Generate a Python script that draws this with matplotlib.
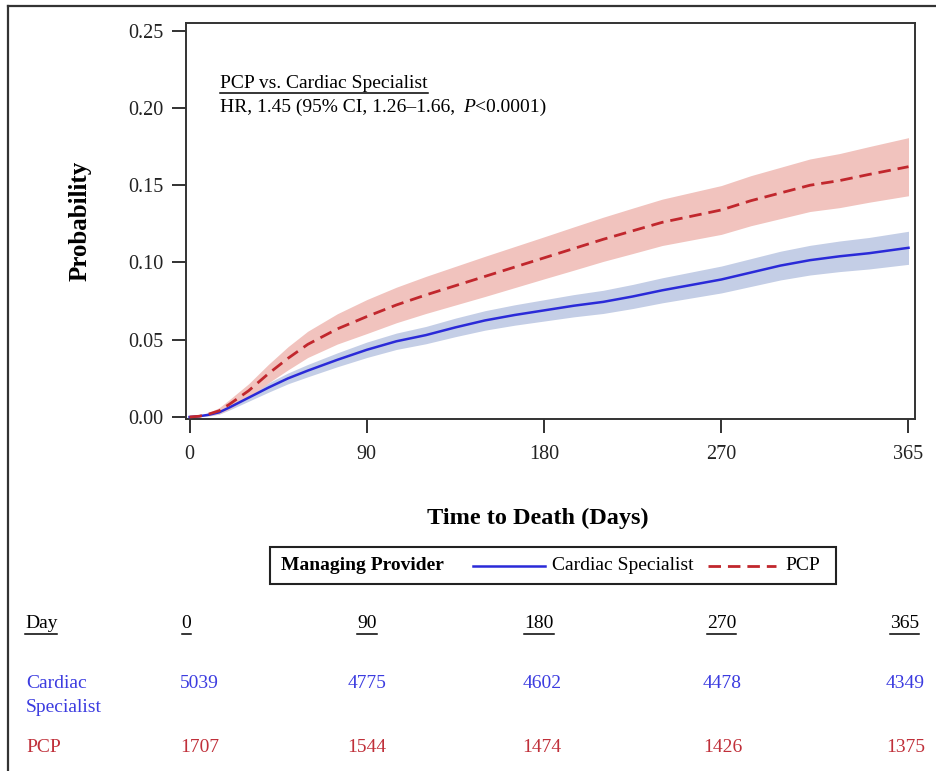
import matplotlib
matplotlib.use("Agg")
import matplotlib.pyplot as plt
from matplotlib import transforms
from matplotlib.lines import Line2D
from matplotlib.patches import Rectangle

# ---------------- data ----------------
days = [0, 5, 10, 15, 20, 30, 40, 50, 60, 75, 90, 105, 120, 135, 150, 165, 180,
        195, 210, 225, 240, 255, 270, 285, 300, 315, 330, 345, 365]

cs_est = [0, 0.0005, 0.0015, 0.003, 0.006, 0.0125, 0.019, 0.025, 0.030, 0.037, 0.0435,
          0.049, 0.053, 0.058, 0.0625, 0.066, 0.069, 0.072, 0.0745, 0.078, 0.082,
          0.0855, 0.089, 0.0935, 0.098, 0.1015, 0.104, 0.106, 0.1095]
cs_lo = [0, 0.0002, 0.0007, 0.0018, 0.0044, 0.0102, 0.016, 0.0215, 0.026, 0.0325, 0.0385,
         0.0437, 0.0474, 0.052, 0.0562, 0.0594, 0.0621, 0.0648, 0.067, 0.0702, 0.0739,
         0.0771, 0.0803, 0.0845, 0.0887, 0.0919, 0.0941, 0.0958, 0.0988]
cs_hi = [0, 0.0008, 0.0023, 0.0042, 0.0076, 0.0148, 0.022, 0.0285, 0.034, 0.0415, 0.0485,
         0.0543, 0.0586, 0.064, 0.0688, 0.0726, 0.0759, 0.0792, 0.082, 0.0858, 0.0901,
         0.0939, 0.0977, 0.1025, 0.1073, 0.1111, 0.1139, 0.1162, 0.1202]

pcp_est = [0, 0.0005, 0.002, 0.004, 0.008, 0.017, 0.028, 0.038, 0.047, 0.057, 0.065,
           0.0725, 0.079, 0.085, 0.091, 0.097, 0.103, 0.109, 0.115, 0.1205, 0.126,
           0.130, 0.134, 0.140, 0.145, 0.150, 0.153, 0.157, 0.162]
pcp_lo = [0, 0.0002, 0.001, 0.002, 0.005, 0.0125, 0.022, 0.0305, 0.0385, 0.0472, 0.054,
          0.061, 0.067, 0.0725, 0.078, 0.0837, 0.0894, 0.095, 0.1007, 0.1058, 0.111,
          0.1146, 0.1182, 0.1238, 0.1284, 0.133, 0.1355, 0.139, 0.1432]
pcp_hi = [0, 0.0008, 0.003, 0.006, 0.011, 0.0215, 0.034, 0.0455, 0.0555, 0.0668, 0.076,
          0.084, 0.091, 0.0975, 0.104, 0.1103, 0.1166, 0.123, 0.1293, 0.1352, 0.141,
          0.1454, 0.1498, 0.1562, 0.1616, 0.167, 0.1705, 0.175, 0.1808]

x_ticks = [0, 90, 180, 270, 365]
y_ticks = [0.00, 0.05, 0.10, 0.15, 0.20, 0.25]
y_ticklabels = ["0.00", "0.05", "0.10", "0.15", "0.20", "0.25"]

risk_days = [0, 90, 180, 270, 365]
cs_risk = [5039, 4775, 4602, 4478, 4349]
pcp_risk = [1707, 1544, 1474, 1426, 1375]

group_names = ["Cardiac Specialist", "PCP"]

# ---------------- style ----------------
SERIF = ["Liberation Serif", "DejaVu Serif"]
plt.rcParams["font.family"] = SERIF
BLUE = "#2a2ad8"
RED = "#c1272d"
BLUE_FILL = "#c4cee6"
RED_FILL = "#f1c3be"
BLUE_TXT = "#3c3ce0"
RED_TXT = "#c0303a"

W, H = 937, 771
fig = plt.figure(figsize=(W / 100, H / 100), dpi=100)


def fx(px):
    return px / W


def fy(py):
    return 1 - py / H


ax = fig.add_axes([fx(186), fy(419), (915 - 186) / W, (419 - 23) / H])

ax.fill_between(days, cs_lo, cs_hi, color=BLUE_FILL, lw=0, zorder=1)
ax.fill_between(days, pcp_lo, pcp_hi, color=RED_FILL, lw=0, zorder=1)
ax.plot(days, cs_est, color=BLUE, lw=1.8, zorder=3)
ax.plot(days, pcp_est, color=RED, lw=2.0, dashes=(4.5, 2.5), zorder=3)

ax.set_xlim(-1.8, 368.3)
ax.set_ylim(-0.0013, 0.255)
ax.set_xticks(x_ticks)
ax.set_xticklabels([str(d) for d in x_ticks])
ax.set_yticks(y_ticks)
ax.set_yticklabels(y_ticklabels)
ax.tick_params(axis="both", direction="out", length=10, width=1.3, labelsize=14.5,
               colors="#222222")
ax.tick_params(axis="y", pad=6.5)
ax.tick_params(axis="x", pad=8.5)
for sp in ax.spines.values():
    sp.set_linewidth(1.4)
    sp.set_color("#333333")

ax.set_ylabel("Probability", fontsize=18, fontweight="bold", labelpad=0)
ax.yaxis.set_label_coords(fx(92), fy(221), transform=fig.transFigure)
fig.text(fx(538), fy(518), "Time to Death (Days)", fontsize=17.5, fontweight="bold",
         ha="center", va="center")

# annotation
fig.canvas.draw()
renderer = fig.canvas.get_renderer()


def underline(t, dy=2, lw=1.1, color="black"):
    bb = t.get_window_extent(renderer)
    y = bb.y0 - dy + 1
    fig.add_artist(Line2D([bb.x0 / W, bb.x1 / W], [y / H, y / H],
                          transform=fig.transFigure, color=color, lw=lw))


t_title = fig.text(fx(220), fy(83), "PCP vs. Cardiac Specialist", fontsize=14,
                   ha="left", va="center")
underline(t_title)
t1 = fig.text(fx(220), fy(107), "HR, 1.45 (95% CI, 1.26\u20131.66,", fontsize=14,
              ha="left", va="center")
bb1 = t1.get_window_extent(renderer)
t2 = fig.text((bb1.x1 + 8) / W, fy(107), "P", fontsize=14, style="italic",
              ha="left", va="center")
bb2 = t2.get_window_extent(renderer)
fig.text((bb2.x1 + 0.5) / W, fy(107), "<0.0001)", fontsize=14, ha="left", va="center")

# legend (drawn manually to match layout)
fig.add_artist(Rectangle((fx(270), fy(584)), (836 - 270) / W, (584 - 547) / H,
                         transform=fig.transFigure, fill=False, lw=1.5,
                         edgecolor="#222222"))
ly = fy(566)
fig.text(fx(281), ly, "Managing Provider", fontsize=14, fontweight="bold",
         ha="left", va="center")
fig.add_artist(Line2D([fx(473), fx(545)], [ly, ly], transform=fig.transFigure,
                      color=BLUE, lw=1.8))
fig.text(fx(552), ly, group_names[0], fontsize=14, ha="left", va="center")
fig.add_artist(Line2D([fx(708), fx(776)], [ly, ly], transform=fig.transFigure,
                      color=RED, lw=2.0, dashes=(4.5, 2.5)))
fig.text(fx(785), ly, group_names[1], fontsize=14, ha="left", va="center")

# risk table
blend = transforms.blended_transform_factory(ax.transData, fig.transFigure)
t_day = fig.text(fx(25), fy(624), "Day", fontsize=14, ha="left", va="center")
underline(t_day)
fig.text(fx(26), fy(683), "Cardiac", fontsize=14, ha="left", va="center", color=BLUE_TXT)
fig.text(fx(26), fy(707), "Specialist", fontsize=14, ha="left", va="center", color=BLUE_TXT)
fig.text(fx(26), fy(748), "PCP", fontsize=14, ha="left", va="center", color=RED_TXT)

head_off = [-3, 0, -5, 0, -4]
num_off = [10, 0, -2, 1, -3]
for i, d in enumerate(risk_days):
    tr = blend + transforms.ScaledTranslation(num_off[i] / 100, 0, fig.dpi_scale_trans)
    trh = blend + transforms.ScaledTranslation(head_off[i] / 100, 0, fig.dpi_scale_trans)
    th = fig.text(d, fy(624), str(d), fontsize=14, ha="center", va="center", transform=trh)
    underline(th)
    fig.text(d, fy(683), str(cs_risk[i]), fontsize=14, ha="center", va="center",
             color=BLUE_TXT, transform=tr)
    fig.text(d, fy(748), str(pcp_risk[i]), fontsize=14, ha="center", va="center",
             color=RED_TXT, transform=tr)

# outer frame (left and top edges)
fig.add_artist(Line2D([fx(8), fx(8)], [fy(6), 0], transform=fig.transFigure,
                      color="#333333", lw=1.6))
fig.add_artist(Line2D([fx(8), 1], [fy(6), fy(6)], transform=fig.transFigure,
                      color="#333333", lw=1.6))

fig.savefig("out.png", dpi=100)
